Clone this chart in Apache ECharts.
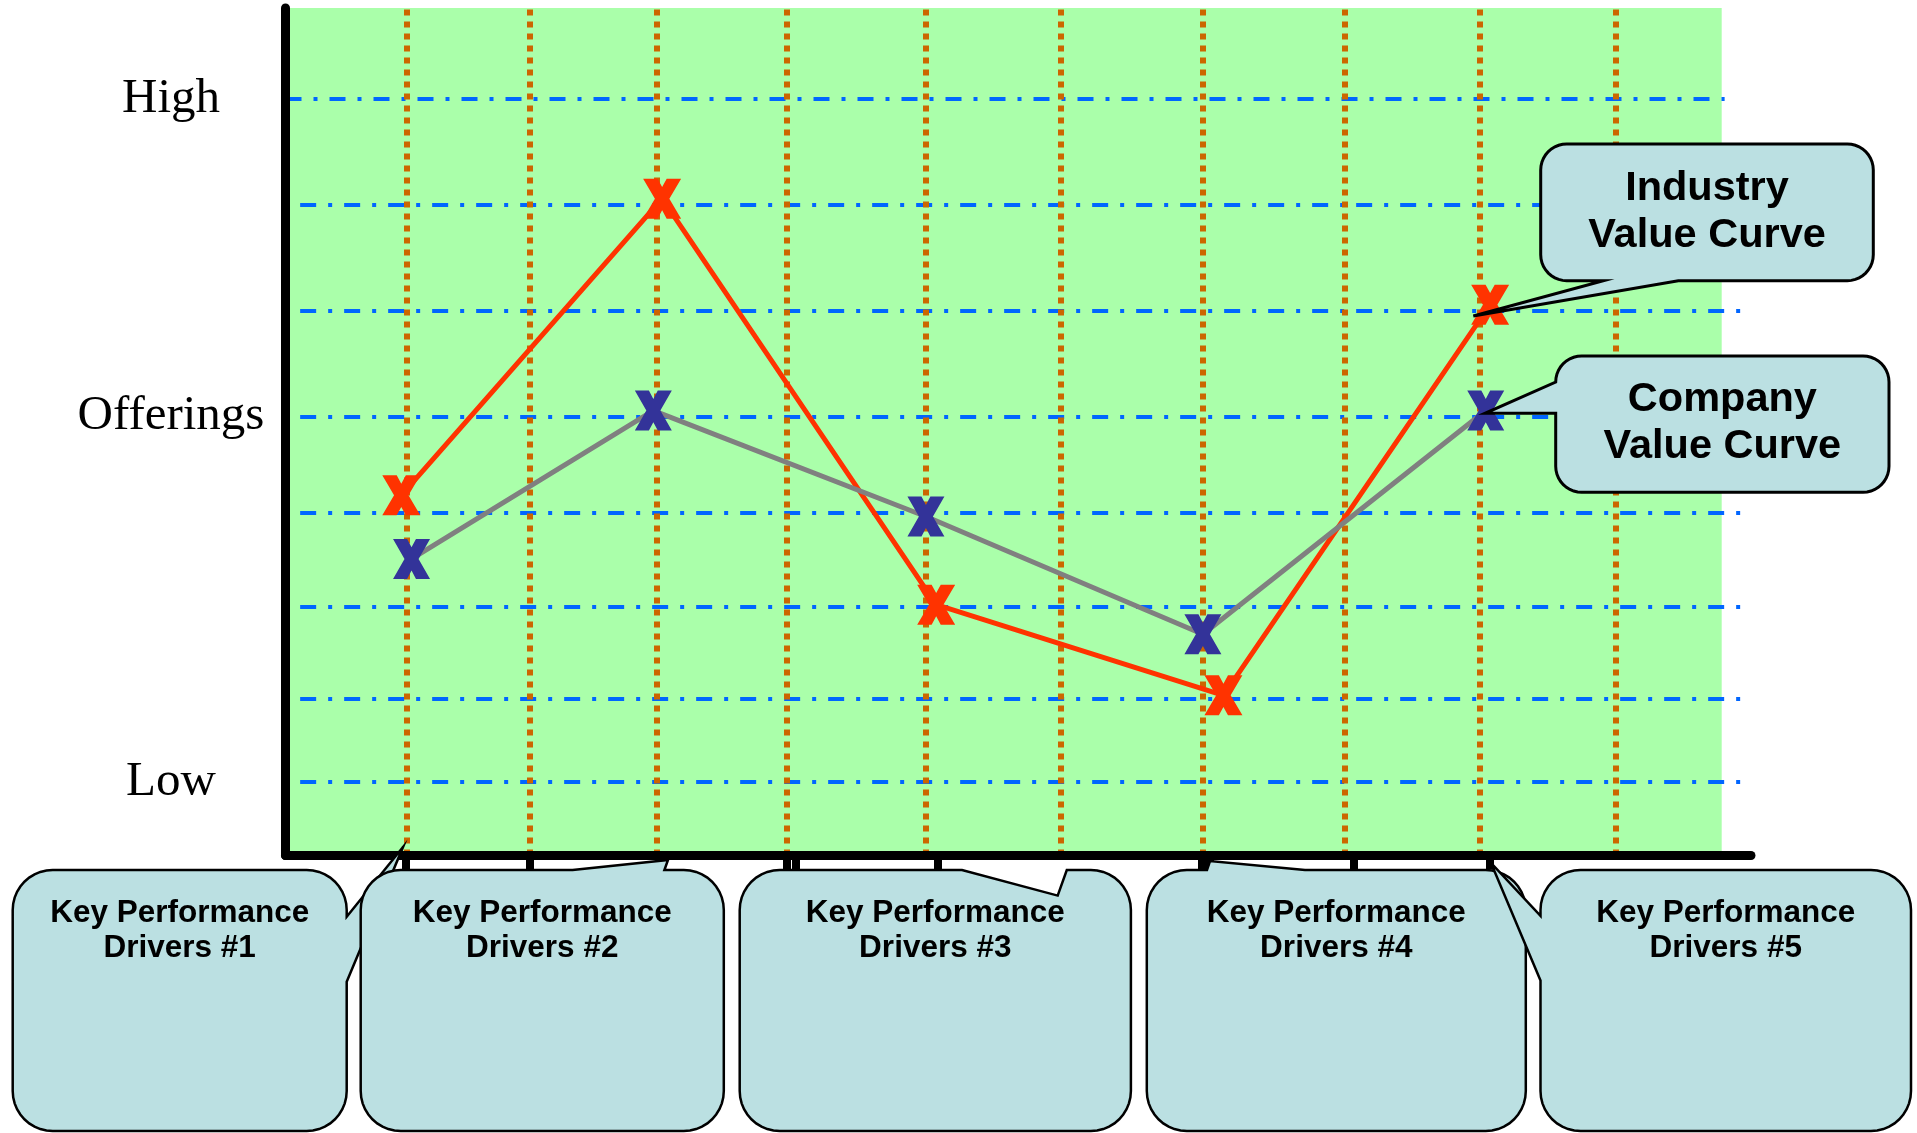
<!DOCTYPE html>
<html>
<head>
<meta charset="utf-8">
<title>Value Curve</title>
<script src="https://cdn.jsdelivr.net/npm/echarts@6/dist/echarts.min.js"></script>
<style>
  html, body { margin: 0; padding: 0; background: #fff; }
  #chart { width: 1917px; height: 1133px; }
</style>
</head>
<body>
<div id="chart"></div>
<script>
// value curves: x runs along the driver axis, y from low to high (both 0..100)
const industryX = [7.9, 25.7, 44.4, 64.0, 82.2];
const industryY = [42.5, 77.5, 29.6, 18.9, 65.0];
const companyX = [8.6, 25.1, 43.7, 62.6, 81.9];
const companyY = [35.0, 52.5, 40.0, 26.1, 52.5];

// dash-dot level lines (first one is "High")
const levelValues = [89.3, 76.8, 64.3, 51.8, 40.4, 29.4, 18.5, 8.7];
// dotted divider lines
const dividerValues = [8.3, 16.7, 25.3, 34.2, 43.7, 52.9, 62.6, 72.3, 81.5, 90.8];
// short ticks under the x axis
const tickValues = [8.2, 16.7, 34.2, 34.8, 44.5, 62.5, 63.1, 72.9, 82.2];

// y axis labels
const yLabelValues = [89.3, 51.8, 8.7];
const yLabelTexts = ['High', 'Offerings', 'Low'];

const driverLabels = [
  'Key Performance\nDrivers #1',
  'Key Performance\nDrivers #2',
  'Key Performance\nDrivers #3',
  'Key Performance\nDrivers #4',
  'Key Performance\nDrivers #5'
];
const curveLabels = ['Industry\nValue Curve', 'Company\nValue Curve'];

// callout layout (pixels)
const calloutFill = '#BBE0E2';
const driverBoxes = [
  { x: 12.7, w: 334, tail: { edge: 'right', pts: [[346.7, 916.7], [403, 847], [346.7, 981.7]] } },
  { x: 360.7, w: 363.1, tail: { edge: 'top', pts: [[572.6, 870], [668, 860], [664.4, 870]] } },
  { x: 739.7, w: 391.2, tail: { edge: 'top', pts: [[962, 870], [1057.7, 895.6], [1066.8, 870]] } },
  { x: 1146.8, w: 379, tail: { edge: 'top', pts: [[1207, 870], [1210, 861], [1305, 870]] } },
  { x: 1540.5, w: 370.5, tail: { edge: 'left', pts: [[1540.5, 980.4], [1491, 863], [1540.5, 915.8]] } }
];
const curveBoxes = [
  { x: 1540.7, y: 144, w: 332.6, h: 136.7, textY: 212,
    tail: { edge: 'bottom', pts: [[1678.3, 280.7], [1473.3, 316], [1603.3, 280.7]] } },
  { x: 1555.7, y: 356, w: 333.3, h: 136.3, textY: 423,
    tail: { edge: 'left', pts: [[1555.7, 413.3], [1485, 413.3], [1555.7, 382]] } }
];

// bold "X" marker
const xGlyph = 'path://M0,0L38,0L50,21L62,0L100,0L69,50L100,100L62,100L50,79L38,100L0,100L31,50Z';

// rounded box outline with a tail spliced into one edge (clockwise)
function calloutPoints(b, tail) {
  const pts = [];
  const x0 = b.x, y0 = b.y, x1 = b.x + b.w, y1 = b.y + b.h, r = b.r;
  const arc = (cx, cy, a0, a1) => {
    for (let i = 0; i <= 10; i++) {
      const a = a0 + (a1 - a0) * i / 10;
      pts.push([cx + r * Math.cos(a), cy + r * Math.sin(a)]);
    }
  };
  const ins = e => { if (tail && tail.edge === e) tail.pts.forEach(p => pts.push(p)); };
  arc(x0 + r, y0 + r, Math.PI, 1.5 * Math.PI);
  ins('top');
  arc(x1 - r, y0 + r, 1.5 * Math.PI, 2 * Math.PI);
  ins('right');
  arc(x1 - r, y1 - r, 0, 0.5 * Math.PI);
  ins('bottom');
  arc(x0 + r, y1 - r, 0.5 * Math.PI, Math.PI);
  ins('left');
  return pts;
}

function textEl(text, x, y, size, lineHeight, z) {
  const font = 'bold ' + size + 'px "Liberation Sans", Arial, sans-serif';
  return {
    type: 'text', z: z, silent: true,
    style: {
      text: text, x: x, y: y, fill: '#000', font: font,
      align: 'center', textAlign: 'center',
      verticalAlign: 'middle', textVerticalAlign: 'middle',
      lineHeight: lineHeight, textLineHeight: lineHeight
    }
  };
}

const graphics = [];
driverBoxes.forEach((b, i) => {
  graphics.push({
    type: 'polygon', z: 100 + i, silent: true,
    shape: { points: calloutPoints({ x: b.x, y: 870, w: b.w, h: 261, r: 40 }, b.tail) },
    style: { fill: calloutFill, stroke: '#000', lineWidth: 2.5 }
  });
  graphics.push(textEl(driverLabels[i], b.x + b.w / 2, 931, 31.5, 35.3, 100 + i));
});
curveBoxes.forEach((b, i) => {
  graphics.push({
    type: 'polygon', z: 110 + i, silent: true,
    shape: { points: calloutPoints({ x: b.x, y: b.y, w: b.w, h: b.h, r: 26 }, b.tail) },
    style: { fill: calloutFill, stroke: '#000', lineWidth: 3 }
  });
  graphics.push(textEl(curveLabels[i], b.x + b.w / 2, b.textY, 41.5, 47.5, 110 + i));
});

const blueStyle = { color: '#0066FF', width: 4, type: [16, 12, 4, 12] };
const orangeStyle = { color: '#CC6600', width: 6, type: [6, 6] };

const levelLines = levelValues.map((v, i) => {
  const from = i === 0 ? 0 : 1.0;
  const to = i === 0 ? 98.2 : 99.3;
  return [
    { coord: [from, v], lineStyle: blueStyle },
    { coord: [to, v], lineStyle: blueStyle }
  ];
});
const dividerLines = dividerValues.map(v => ({ xAxis: v, lineStyle: orangeStyle }));

const chart = echarts.init(document.getElementById('chart'));

chart.setOption({
  animation: false,
  backgroundColor: '#fff',
  grid: { left: 285.5, right: 166, top: 8, bottom: 277.5, containLabel: false, outerBoundsMode: 'none' },
  xAxis: {
    type: 'value', min: 0, max: 100, z: 10,
    axisLine: { show: true, lineStyle: { color: '#000', width: 9 } },
    axisTick: { show: true, customValues: tickValues, length: 14, lineStyle: { color: '#000', width: 8 } },
    axisLabel: { show: false },
    splitLine: { show: false }
  },
  yAxis: {
    type: 'value', min: 0, max: 100, z: 10,
    axisLine: { show: true, lineStyle: { color: '#000', width: 9 } },
    axisTick: { show: false },
    axisLabel: {
      customValues: yLabelValues,
      formatter: function (v) {
        let best = 0;
        yLabelValues.forEach((lv, i) => { if (Math.abs(lv - v) < Math.abs(yLabelValues[best] - v)) best = i; });
        return yLabelTexts[best];
      },
      margin: 114.5,
      align: 'center',
      color: '#000',
      fontFamily: '"Liberation Serif", "Times New Roman", serif',
      fontSize: 49,
      padding: [0, 0, 17, 0]
    },
    splitLine: { show: false }
  },
  series: [
    {
      name: 'Industry Value Curve',
      type: 'line',
      z: 3,
      data: industryX.map((x, i) => [x, industryY[i]]),
      symbol: xGlyph,
      symbolSize: [38, 40],
      lineStyle: { color: '#FF3300', width: 5 },
      itemStyle: { color: '#FF3300', borderWidth: 0 },
      emphasis: { disabled: true },
      markArea: {
        silent: true, z: 0,
        itemStyle: { color: '#AAFFAA', opacity: 1, borderWidth: 0 },
        data: [[{ coord: [0, 0] }, { coord: [98.0, 100] }]]
      },
      markLine: {
        silent: true, z: 1,
        symbol: ['none', 'none'],
        label: { show: false },
        data: levelLines.concat(dividerLines)
      }
    },
    {
      name: 'Company Value Curve',
      type: 'line',
      z: 4,
      data: companyX.map((x, i) => [x, companyY[i]]),
      symbol: xGlyph,
      symbolSize: [37, 40],
      lineStyle: { color: '#808080', width: 5 },
      itemStyle: { color: '#333399', borderWidth: 0 },
      emphasis: { disabled: true }
    }
  ],
  graphic: graphics
});
</script>
</body>
</html>
